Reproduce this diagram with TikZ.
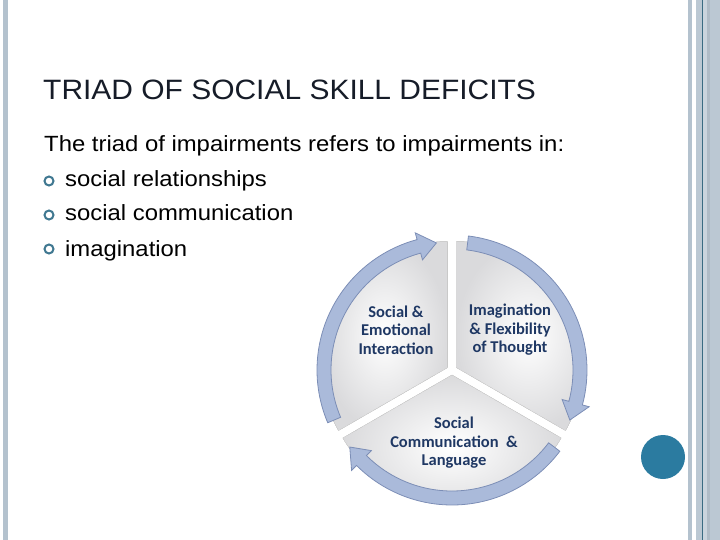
\documentclass[tikz,border=0pt]{standalone}
\usepackage{fontspec}
\setmainfont{Liberation Sans}
\newfontfamily\calfont{Carlito}
\usepackage{graphicx}
\definecolor{bandblue}{RGB}{170,186,218}
\definecolor{bandedge}{RGB}{124,142,182}
\definecolor{navy}{RGB}{31,56,100}
\definecolor{barblue}{RGB}{180,194,206}
\definecolor{bardark}{RGB}{58,107,130}
\definecolor{dotteal}{RGB}{43,123,160}
\definecolor{bullteal}{RGB}{64,120,145}
\definecolor{titleink}{RGB}{22,28,40}
\definecolor{wedgegrey}{RGB}{218,218,220}

\begin{document}
\begin{tikzpicture}[x=1pt,y=-1pt,
  band/.style={fill=bandblue,draw=bandedge,line width=0.8pt},
  wedge/.style={inner color=white,outer color=wedgegrey,draw=gray!30,line width=0.5pt},
  lbl/.style={font=\calfont\bfseries\fontsize{16.5}{18.5}\selectfont,text=navy,align=center},
  body/.style={anchor=base west,inner sep=0pt,font=\fontsize{22}{26}\selectfont},
  bullet/.style={circle,draw=bullteal,line width=2pt,minimum size=9pt,inner sep=0pt}]

\useasboundingbox (0,0) rectangle (720,540);

% side bars
\fill[barblue] (3,0) rectangle (8,540);
\fill[barblue] (688,0) rectangle (692,540);
\fill[barblue!90!white] (696,0) rectangle (720,540);
\fill[bardark] (702,0) rectangle (703,540);
\fill[barblue!70!white] (703,0) rectangle (707,540);
\fill[barblue!90!gray] (707,0) rectangle (710,540);
\node[circle,fill=dotteal,minimum size=44pt,inner sep=0pt] (dot) at (663,457) {};

% title and text
\node[anchor=base west,inner sep=0pt,text=titleink,font=\fontsize{28}{32}\selectfont] (title) at (43,100) {\scalebox{1.07}[1]{TRIAD OF SOCIAL SKILL DEFICITS}};
\node[body] (intro) at (44,152) {\scalebox{1.085}[1]{The triad of impairments refers to impairments in:}};
\node[body] (item1) at (65,187) {\scalebox{1.085}[1]{social relationships}};
\node[body] (item2) at (65,221) {\scalebox{1.085}[1]{social communication}};
\node[body] (item3) at (65,256) {\scalebox{1.085}[1]{imagination}};
\node[bullet] (b1) at (49,181) {};
\node[bullet] (b2) at (49,215) {};
\node[bullet] (b3) at (49,249) {};

% triad wheel
\begin{scope}[shift={(452,370)},yscale=-1]
  \foreach \a in {90,210,330}
    \fill[wedge] (\a+60:5) -- ++(\a:126) arc[start angle=\a, end angle=\a+120, radius=126] -- cycle;
  % arrows round the wheel
  \foreach \s/\e in {203/97, 83/-23, -37/-143}
    \filldraw[band] (\s:135) arc[start angle=\s, end angle=\e+8, radius=135]
      -- (\e+8:142) -- (\e:128) -- (\e+8:114) -- (\e+8:121)
      arc[start angle=\e+8, end angle=\s, radius=121] -- cycle;
\end{scope}

\node[lbl] (social) at (396,330) {Social \&\\Emotional\\Interaction};
\node[lbl] (imagin) at (510,330) {Imagination\\\& Flexibility\\of Thought};
\node[lbl] (commun) at (454,443) {Social\\Communication~~\&\\Language};

\end{tikzpicture}
\end{document}
